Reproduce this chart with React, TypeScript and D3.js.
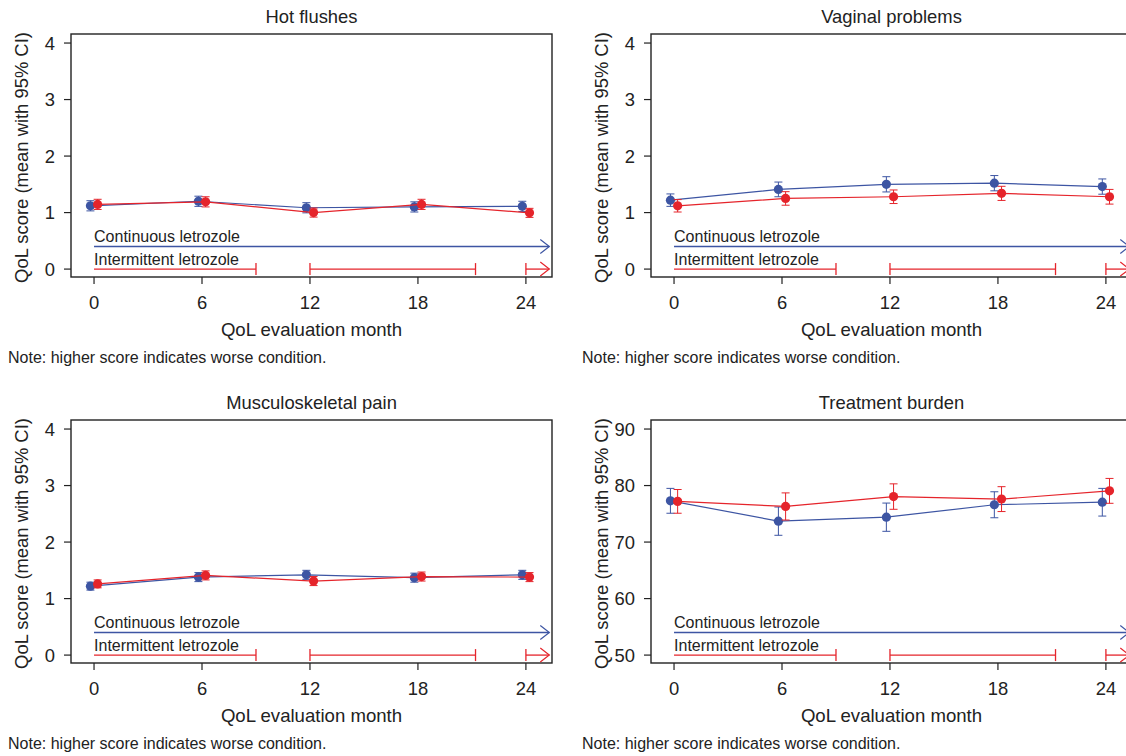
import React from 'react';
import * as d3 from 'd3';

// QoL evaluation months
const months = [0, 6, 12, 18, 24];

// Hot flushes
const hotCont = [1.12, 1.2, 1.085, 1.1, 1.11];
const hotContCI = [0.09, 0.09, 0.09, 0.09, 0.09];
const hotInt = [1.145, 1.19, 1.0, 1.145, 0.995];
const hotIntCI = [0.09, 0.09, 0.08, 0.09, 0.08];

// Vaginal problems
const vagCont = [1.22, 1.41, 1.5, 1.52, 1.46];
const vagContCI = [0.11, 0.13, 0.135, 0.135, 0.135];
const vagInt = [1.12, 1.25, 1.28, 1.34, 1.28];
const vagIntCI = [0.11, 0.12, 0.12, 0.125, 0.13];

// Musculoskeletal pain
const mskCont = [1.22, 1.38, 1.42, 1.37, 1.42];
const mskContCI = [0.07, 0.08, 0.08, 0.08, 0.08];
const mskInt = [1.26, 1.41, 1.31, 1.39, 1.38];
const mskIntCI = [0.07, 0.08, 0.08, 0.08, 0.08];

// Treatment burden
const burCont = [77.3, 73.7, 74.4, 76.6, 77.05];
const burContCI = [2.2, 2.5, 2.5, 2.3, 2.45];
const burInt = [77.2, 76.3, 78.05, 77.6, 79.06];
const burIntCI = [2.1, 2.4, 2.25, 2.2, 2.2];

const qolTicks = [0, 1, 2, 3, 4];
const burTicks = [50, 60, 70, 80, 90];

// intermittent treatment periods (months)
const intPeriods = [[0, 9], [12, 21.2], [24, 25.3]];

const BLUE = '#3d55a3';
const RED = '#e5242b';
const FONT = 'Liberation Sans, Arial, Helvetica, sans-serif';

type PanelProps = {
  dx: number; dy: number; title: string;
  yDomain: [number, number]; yTicks: number[];
  cont: number[]; contCI: number[]; int: number[]; intCI: number[];
  legendY: number; baseY: number;
};

const Panel = ({ dx, dy, title, yDomain, yTicks, cont, contCI, int, intCI, legendY, baseY }: PanelProps) => {
  const left = 71, right = 552, top = 34, bottom = 277;
  const x = d3.scaleLinear().domain([-1.28, 25.45]).range([left, right]);
  const y = d3.scaleLinear().domain(yDomain).range([bottom, top]);
  const line = d3.line<[number, number]>().x(d => x(d[0])).y(d => y(d[1]));
  const off = 0.2;

  const series = (vals: number[], ci: number[], shift: number, color: string) => {
    const pts: [number, number][] = months.map((m, i) => [m + shift, vals[i]]);
    return (
      <g>
        <path d={line(pts) || ''} fill="none" stroke={color} strokeWidth={1.2} />
        {pts.map((p, i) => (
          <g key={i} stroke={color} strokeWidth={1}>
            <line x1={x(p[0])} x2={x(p[0])} y1={y(p[1] - ci[i])} y2={y(p[1] + ci[i])} />
            <line x1={x(p[0]) - 4} x2={x(p[0]) + 4} y1={y(p[1] - ci[i])} y2={y(p[1] - ci[i])} />
            <line x1={x(p[0]) - 4} x2={x(p[0]) + 4} y1={y(p[1] + ci[i])} y2={y(p[1] + ci[i])} />
            <circle cx={x(p[0])} cy={y(p[1])} r={4.6} fill={color} stroke="none" />
          </g>
        ))}
      </g>
    );
  };

  const arrow = (xe: number, ye: number, color: string) => (
    <path d={`M${xe - 9},${ye - 7}L${xe},${ye}L${xe - 9},${ye + 7}`} fill="none" stroke={color} strokeWidth={1.2} />
  );

  const contEnd = x(25.3);
  const cy = y(legendY), iy = y(baseY);

  return (
    <g transform={`translate(${dx},${dy})`} fontFamily={FONT} fill="#222">
      <text x={(left + right) / 2} y={23} textAnchor="middle" fontSize={18.4}>{title}</text>
      <rect x={left} y={top} width={right - left} height={bottom - top} fill="none" stroke="#222" strokeWidth={1.4} />
      {yTicks.map(t => (
        <g key={t}>
          <line x1={left - 7} x2={left} y1={y(t)} y2={y(t)} stroke="#222" strokeWidth={1.2} />
          <text x={left - 16} y={y(t) + 6.5} textAnchor="end" fontSize={18.4}>{t}</text>
        </g>
      ))}
      {months.map(m => (
        <g key={m}>
          <line x1={x(m)} x2={x(m)} y1={bottom} y2={bottom + 7} stroke="#222" strokeWidth={1.2} />
          <text x={x(m)} y={308.5} textAnchor="middle" fontSize={18.4}>{m}</text>
        </g>
      ))}
      <text x={(left + right) / 2} y={336} textAnchor="middle" fontSize={18.6}>QoL evaluation month</text>
      <text transform={`translate(28,${(top + bottom) / 2 + 2}) rotate(-90)`} textAnchor="middle" fontSize={18.4}>QoL score (mean with 95% CI)</text>
      <text x={dx ? 2 : 8} y={363} fontSize={16}>Note: higher score indicates worse condition.</text>

      <text x={x(0)} y={cy - 4} fontSize={16}>Continuous letrozole</text>
      <line x1={x(0)} x2={contEnd} y1={cy} y2={cy} stroke={BLUE} strokeWidth={1.3} />
      {arrow(contEnd, cy, BLUE)}
      <text x={x(0)} y={iy - 4} fontSize={16}>Intermittent letrozole</text>
      {intPeriods.map(([a, b], i) => (
        <g key={i} stroke={RED} strokeWidth={1.3}>
          <line x1={x(a)} x2={x(b)} y1={iy} y2={iy} />
          {i > 0 && <line x1={x(a)} x2={x(a)} y1={iy - 6} y2={iy + 6} />}
          {i < intPeriods.length - 1 && <line x1={x(b)} x2={x(b)} y1={iy - 6} y2={iy + 6} />}
        </g>
      ))}
      {arrow(x(25.3), iy, RED)}

      {series(cont, contCI, -off, BLUE)}
      {series(int, intCI, off, RED)}
    </g>
  );
};

export default function App() {
  return (
    <svg width={1126} height={756} style={{ position: 'absolute', left: 0, top: 0, background: '#fff' }}>
      <Panel dx={0} dy={0} title="Hot flushes" yDomain={[-0.14, 4.16]} yTicks={qolTicks}
        cont={hotCont} contCI={hotContCI} int={hotInt} intCI={hotIntCI} legendY={0.4} baseY={0} />
      <Panel dx={580} dy={0} title="Vaginal problems" yDomain={[-0.14, 4.16]} yTicks={qolTicks}
        cont={vagCont} contCI={vagContCI} int={vagInt} intCI={vagIntCI} legendY={0.4} baseY={0} />
      <Panel dx={0} dy={386} title="Musculoskeletal pain" yDomain={[-0.14, 4.16]} yTicks={qolTicks}
        cont={mskCont} contCI={mskContCI} int={mskInt} intCI={mskIntCI} legendY={0.4} baseY={0} />
      <Panel dx={580} dy={386} title="Treatment burden" yDomain={[48.6, 91.6]} yTicks={burTicks}
        cont={burCont} contCI={burContCI} int={burInt} intCI={burIntCI} legendY={54} baseY={50} />
    </svg>
  );
}
